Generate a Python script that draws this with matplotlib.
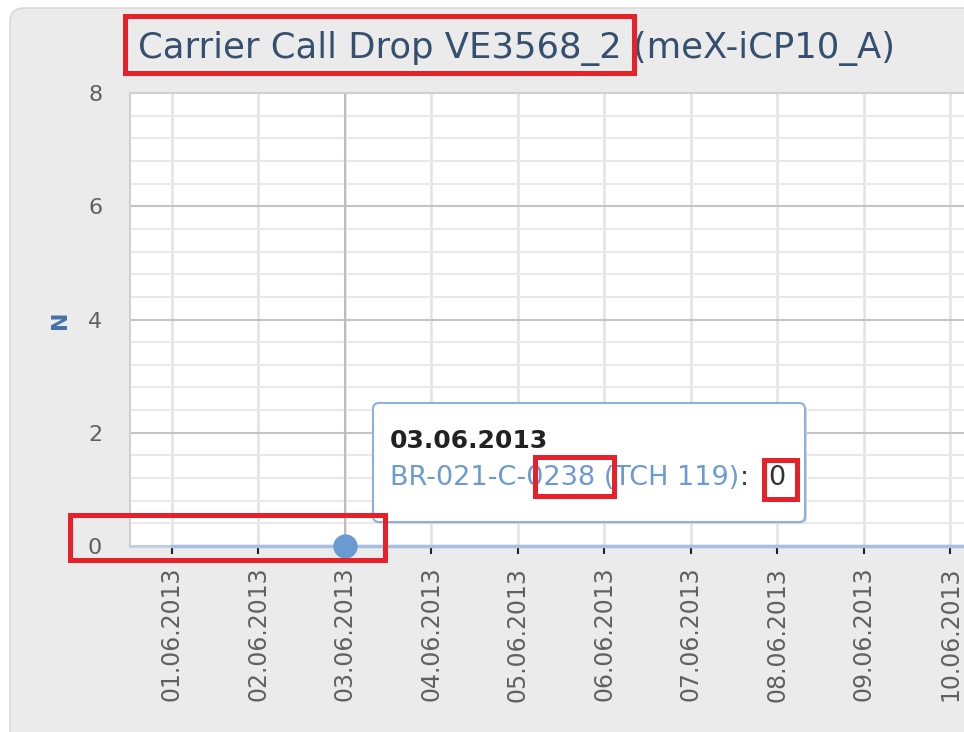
import matplotlib.pyplot as plt
from matplotlib.patches import FancyBboxPatch, Rectangle
from matplotlib.ticker import MultipleLocator
from matplotlib.transforms import IdentityTransform

W, H = 964, 732

title = "Carrier Call Drop VE3568_2 (meX-iCP10_A)"
dates = ["01.06.2013", "02.06.2013", "03.06.2013", "04.06.2013", "05.06.2013",
         "06.06.2013", "07.06.2013", "08.06.2013", "09.06.2013", "10.06.2013",
         "11.06.2013"]
drops = [0, 0, 0, 0, 0, 0, 0, 0, 0, 0, 0]
series_name = "BR-021-C-0238 (TCH 119)"
hover_idx = 2
y_ticks = [0, 2, 4, 6, 8]
shown_ticks = 10  # the chart is cut off after 10.06

PIX = IdentityTransform()


def box(x0, y0, x1, y1):
    # screen box (top-left origin) -> display coords (bottom-left origin)
    return (x0, H - y1), x1 - x0, y1 - y0


fig = plt.figure(figsize=(W / 100, H / 100), dpi=100, facecolor="white")

# grey rounded panel behind the chart
xy, w, h = box(10, 8, 1010, 780)
fig.add_artist(FancyBboxPatch(xy, w, h, boxstyle="round,pad=0,rounding_size=14",
                              transform=PIX, facecolor="#EBEBEB",
                              edgecolor="#D4D4D4", lw=1, zorder=0))

ax = fig.add_axes([130 / W, (H - 546) / H, (993.7 - 130) / W, (546 - 93) / H])
ax.set_facecolor("white")

ax.set_yticks(y_ticks)
ax.yaxis.set_minor_locator(MultipleLocator(0.4))
ax.set_xticks(range(shown_ticks))
ax.set_xticklabels(dates[:shown_ticks])
ax.set_xlim(-0.485, 9.5)
ax.set_ylim(0, 8)

ax.set_axisbelow(True)
ax.grid(which="minor", axis="y", color="#E9E9E9", lw=1.5)
ax.grid(which="major", axis="y", color="#C4C4C4", lw=1.5)
ax.grid(which="major", axis="x", color="#E2E2E2", lw=1.8)
ax.axvline(hover_idx, color="#BDBDBD", lw=1.5, zorder=1)

for side in ["left", "top"]:
    ax.spines[side].set_color("#D0D0D0")
    ax.spines[side].set_linewidth(1.5)
ax.spines["right"].set_visible(False)
ax.spines["bottom"].set_color("#C0D0E0")
ax.spines["bottom"].set_linewidth(2)

ax.tick_params(axis="x", which="major", length=6, width=1.5, color="#222222",
               pad=9, labelsize=17, labelcolor="#606060", labelrotation=90)
ax.tick_params(axis="y", which="both", length=0, pad=20, labelsize=16,
               labelcolor="#606060")
ax.tick_params(axis="x", which="minor", length=0)

ax.plot(range(len(dates)), drops, color="#A4BFE2", lw=2.5, clip_on=False, zorder=3)
ax.plot(hover_idx, drops[hover_idx], "o", ms=16.5, color="#6A9BD0",
        clip_on=False, zorder=4)

ax.set_ylabel("N", fontweight="bold", color="#4572A7", fontsize=16)
ax.yaxis.set_label_coords(-0.07, 0.5)

fig.text(138, H - 58, title, transform=PIX, fontsize=25.5, color="#34506E",
         va="baseline")

# tooltip
xy, w, h = box(375, 405, 807, 524)
fig.add_artist(FancyBboxPatch(xy, w, h, boxstyle="round,pad=0,rounding_size=6",
                              transform=PIX, facecolor="#D8D8D8",
                              edgecolor="none", zorder=9))
xy, w, h = box(373, 403, 805, 522)
fig.add_artist(FancyBboxPatch(xy, w, h, boxstyle="round,pad=0,rounding_size=6",
                              transform=PIX, facecolor="white",
                              edgecolor="#8FB0DA", lw=1.5, zorder=10))
fig.text(390, H - 448, dates[hover_idx], transform=PIX, fontsize=18,
         fontweight="bold", color="#222222", va="baseline", zorder=11)
name_txt = fig.text(390, H - 485, series_name, transform=PIX, fontsize=19.5,
                    color="#6B9BD2", va="baseline", zorder=11)
fig.text(768, H - 485, str(drops[hover_idx]), transform=PIX, fontsize=19.5,
         color="#333333", va="baseline", zorder=11)
fig.canvas.draw()
name_end = name_txt.get_window_extent().x1
fig.text(name_end + 1, H - 485, ":", transform=PIX, fontsize=19.5,
         color="#333333", va="baseline", zorder=11)

# red highlight boxes
for x0, y0, x1, y1 in [(124.5, 15.5, 633.5, 72.5), (70, 515, 385, 560),
                       (534.5, 456.5, 614, 495.5), (764, 460, 797, 499)]:
    xy, w, h = box(x0, y0, x1, y1)
    fig.add_artist(Rectangle(xy, w, h, transform=PIX, fill=False,
                             edgecolor="#E8202A", lw=3.6, zorder=20))

fig.savefig("out.png", dpi=100)
plt.close(fig)
